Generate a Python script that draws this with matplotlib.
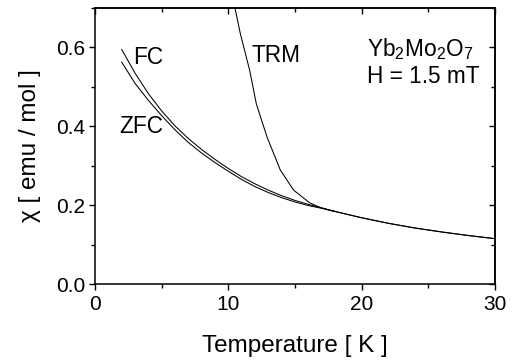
import matplotlib
matplotlib.use("Agg")
import matplotlib.pyplot as plt
from matplotlib.ticker import MultipleLocator, FormatStrFormatter

plt.rcParams['font.family'] = ['Liberation Sans', 'DejaVu Sans']
plt.rcParams['mathtext.fontset'] = 'custom'
plt.rcParams['mathtext.rm'] = 'Liberation Sans'
plt.rcParams['mathtext.it'] = 'Liberation Sans:italic'
plt.rcParams['mathtext.bf'] = 'Liberation Sans:bold'

# FC curve
fc_T = [2, 3, 4, 5, 6, 7, 8, 9, 10, 11, 12, 13, 14, 15, 16, 17, 18, 20, 22, 24, 26, 28, 30]
fc_chi = [0.595, 0.535, 0.483, 0.439, 0.401, 0.369, 0.341, 0.316, 0.293, 0.272, 0.254, 0.238,
          0.224, 0.212, 0.202, 0.193, 0.184, 0.168, 0.154, 0.142, 0.132, 0.123, 0.115]
# ZFC curve
zfc_T = [2, 3, 4, 5, 6, 7, 8, 9, 10, 11, 12, 13, 14, 15, 16, 17, 18, 20, 22, 24, 26, 28, 30]
zfc_chi = [0.563, 0.509, 0.466, 0.427, 0.391, 0.359, 0.332, 0.308, 0.286, 0.265, 0.247, 0.232,
           0.219, 0.208, 0.199, 0.192, 0.184, 0.168, 0.154, 0.142, 0.132, 0.123, 0.115]
# TRM curve
trm_T = [10.3, 10.5, 10.9, 11.6, 12.1, 12.9, 13.9, 14.9, 16.1, 16.9, 17.5, 18]
trm_chi = [0.74, 0.70, 0.635, 0.542, 0.457, 0.373, 0.289, 0.238, 0.206, 0.194, 0.188, 0.184]

x_ticks = [0, 10, 20, 30]
y_ticks = [0.0, 0.2, 0.4, 0.6]

fig = plt.figure(figsize=(5.14, 3.63), dpi=100)
ax = fig.add_axes([0.1848, 0.2176, 0.7782, 0.7604])

lw = 0.75
ax.plot(fc_T, fc_chi, color='black', lw=lw)
ax.plot(zfc_T, zfc_chi, color='black', lw=lw)
ax.plot(trm_T, trm_chi, color='black', lw=lw)

ax.set_xlim(0, 30)
ax.set_ylim(0, 0.7)
ax.set_xticks(x_ticks)
ax.set_yticks(y_ticks)
ax.xaxis.set_minor_locator(MultipleLocator(5))
ax.yaxis.set_minor_locator(MultipleLocator(0.1))
ax.yaxis.set_major_formatter(FormatStrFormatter('%.1f'))

for s in ax.spines.values():
    s.set_linewidth(1.1)
ax.tick_params(which='both', direction='out', width=1.0, labelsize=15)
ax.tick_params(axis='x', pad=4)
ax.tick_params(axis='y', pad=3)
ax.tick_params(which='major', length=4)
ax.tick_params(which='minor', length=3)

secx = ax.secondary_xaxis('top')
secx.set_xticks(x_ticks)
secx.xaxis.set_minor_locator(MultipleLocator(5))
secx.tick_params(which='both', direction='in', labeltop=False, width=1.0)
secx.tick_params(which='major', length=4)
secx.tick_params(which='minor', length=3)
secx.spines['top'].set_linewidth(1.1)

secy = ax.secondary_yaxis('right')
secy.set_yticks(y_ticks)
secy.yaxis.set_minor_locator(MultipleLocator(0.1))
secy.tick_params(which='both', direction='in', labelright=False, width=1.0)
secy.tick_params(which='major', length=4)
secy.tick_params(which='minor', length=3)
secy.spines['right'].set_linewidth(1.1)

ax.set_xlabel('Temperature [ K ]', fontsize=17.5, labelpad=15)
ax.set_ylabel('χ [ emu / mol ]', fontsize=17.5, labelpad=11)

fs = 16.3
ax.text(2.85, 0.559, 'FC', fontsize=fs, va='baseline', ha='left')
ax.text(1.8, 0.382, 'ZFC', fontsize=fs, va='baseline', ha='left')
ax.text(11.75, 0.562, 'TRM', fontsize=fs, va='baseline', ha='left')
ax.text(20.4, 0.577, r'Yb$_{2}$Mo$_{2}$O$_{7}$', fontsize=fs, va='baseline', ha='left')
ax.text(20.4, 0.511, 'H = 1.5 mT', fontsize=fs, va='baseline', ha='left')

fig.savefig('out.png', dpi=100)
